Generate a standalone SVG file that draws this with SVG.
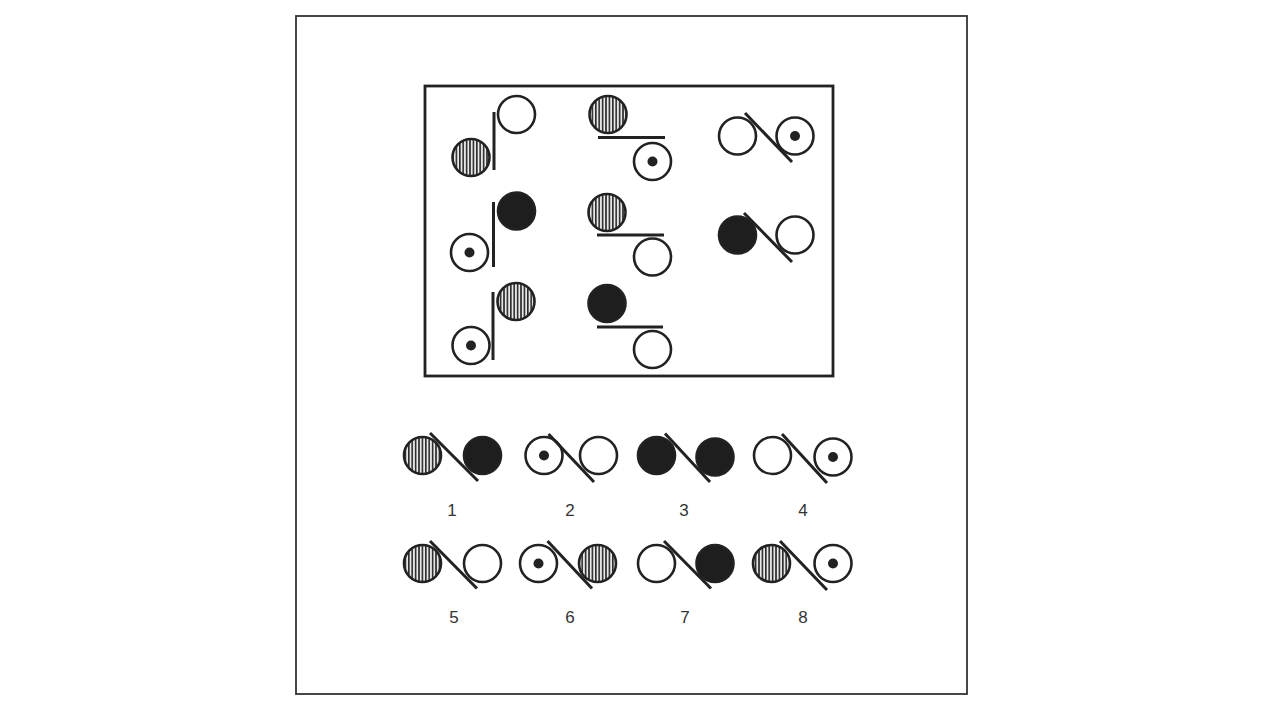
<svg xmlns="http://www.w3.org/2000/svg" width="1280" height="720" viewBox="0 0 1280 720">
<defs>
<pattern id="stripes" patternUnits="userSpaceOnUse" width="3.4" height="4">
<rect width="3.4" height="4" fill="#e8e8e8"/>
<rect width="1.6" height="4" fill="#2a2a2a"/>
</pattern>
<style>
.frame{fill:none;stroke:#333;stroke-width:1.8}
.inner{fill:none;stroke:#222;stroke-width:2.8}
.open{fill:#fff;stroke:#222;stroke-width:2.6}
.black{fill:#1e1e1e;stroke:#222;stroke-width:2.6}
.striped{fill:url(#stripes);stroke:#222;stroke-width:2.6}
.dot{fill:#222}
.bar{stroke:#222;stroke-width:3;stroke-linecap:butt}
.lbl{font-family:"Liberation Sans",Arial,sans-serif;font-size:17px;fill:#333;text-anchor:middle}
</style>
</defs>
<rect width="1280" height="720" fill="#fff"/>
<rect class="frame" x="296" y="16" width="671" height="678"/>
<rect class="inner" x="425" y="86" width="408" height="290"/>

<g id="cell-1-1">
<line class="bar" x1="494" y1="112" x2="494" y2="170"/>
<circle class="open" cx="516.5" cy="114.5" r="18.5"/>
<circle class="striped" cx="471" cy="157.5" r="18.5"/>
</g>
<g id="cell-1-2">
<circle class="striped" cx="608" cy="114.5" r="18.5"/>
<line class="bar" x1="598" y1="137.5" x2="665" y2="137.5"/>
<circle class="open" cx="652.5" cy="161.5" r="18.5"/>
<circle class="dot" cx="652.5" cy="161.5" r="5"/>
</g>
<g id="cell-1-3">
<circle class="open" cx="737.5" cy="136" r="18.5"/>
<circle class="open" cx="795" cy="136" r="18.5"/>
<circle class="dot" cx="795" cy="136" r="5"/>
<line class="bar" x1="745" y1="113" x2="792" y2="162"/>
</g>

<g id="cell-2-1">
<line class="bar" x1="493.5" y1="202" x2="493.5" y2="267"/>
<circle class="black" cx="516.5" cy="211" r="18.5"/>
<circle class="open" cx="469.5" cy="252.5" r="18.5"/>
<circle class="dot" cx="469.5" cy="252.5" r="5"/>
</g>
<g id="cell-2-2">
<circle class="striped" cx="607" cy="212.5" r="18.5"/>
<line class="bar" x1="597" y1="235" x2="664" y2="235"/>
<circle class="open" cx="652.5" cy="257" r="18.5"/>
</g>
<g id="cell-2-3">
<circle class="black" cx="737.5" cy="235" r="18.5"/>
<circle class="open" cx="795" cy="235" r="18.5"/>
<line class="bar" x1="744" y1="213" x2="792" y2="262"/>
</g>

<g id="cell-3-1">
<line class="bar" x1="493" y1="292" x2="493" y2="360"/>
<circle class="striped" cx="516" cy="301.5" r="18.5"/>
<circle class="open" cx="471" cy="345.5" r="18.5"/>
<circle class="dot" cx="471" cy="345.5" r="5"/>
</g>
<g id="cell-3-2">
<circle class="black" cx="607" cy="303.5" r="18.5"/>
<line class="bar" x1="597" y1="327" x2="663" y2="327"/>
<circle class="open" cx="652.5" cy="349.5" r="18.5"/>
</g>

<g id="option-1">
<circle class="striped" cx="422.5" cy="455.5" r="18.5"/>
<circle class="black" cx="482.5" cy="455.5" r="18.5"/>
<line class="bar" x1="430" y1="433" x2="478" y2="481"/>
<text class="lbl" x="452" y="516">1</text>
</g>
<g id="option-2">
<circle class="open" cx="544" cy="455.5" r="18.5"/>
<circle class="dot" cx="544" cy="455.5" r="5"/>
<circle class="open" cx="598.5" cy="455.5" r="18.5"/>
<line class="bar" x1="548.5" y1="434" x2="594" y2="482"/>
<text class="lbl" x="570" y="516">2</text>
</g>
<g id="option-3">
<circle class="black" cx="656.5" cy="455.5" r="18.5"/>
<circle class="black" cx="715" cy="457" r="18.5"/>
<line class="bar" x1="665" y1="433.5" x2="710" y2="482"/>
<text class="lbl" x="684" y="516">3</text>
</g>
<g id="option-4">
<circle class="open" cx="772.5" cy="455.5" r="18.5"/>
<circle class="open" cx="833" cy="457" r="18.5"/>
<circle class="dot" cx="833" cy="457" r="5"/>
<line class="bar" x1="782" y1="434" x2="827" y2="483"/>
<text class="lbl" x="803" y="516">4</text>
</g>

<g id="option-5">
<circle class="striped" cx="422.5" cy="563.5" r="18.5"/>
<circle class="open" cx="482.5" cy="563.5" r="18.5"/>
<line class="bar" x1="430" y1="541" x2="477" y2="588.5"/>
<text class="lbl" x="454" y="623">5</text>
</g>
<g id="option-6">
<circle class="open" cx="538.5" cy="563.5" r="18.5"/>
<circle class="dot" cx="538.5" cy="563.5" r="5"/>
<circle class="striped" cx="597.5" cy="563.5" r="18.5"/>
<line class="bar" x1="547.5" y1="541" x2="592" y2="588.5"/>
<text class="lbl" x="570" y="623">6</text>
</g>
<g id="option-7">
<circle class="open" cx="656.5" cy="563.5" r="18.5"/>
<circle class="black" cx="715" cy="563.5" r="18.5"/>
<line class="bar" x1="664" y1="541" x2="711" y2="588.5"/>
<text class="lbl" x="685" y="623">7</text>
</g>
<g id="option-8">
<circle class="striped" cx="771.5" cy="563.5" r="18.5"/>
<circle class="open" cx="833" cy="563.5" r="18.5"/>
<circle class="dot" cx="833" cy="563.5" r="5"/>
<line class="bar" x1="780" y1="541" x2="827" y2="590"/>
<text class="lbl" x="803" y="623">8</text>
</g>
</svg>
